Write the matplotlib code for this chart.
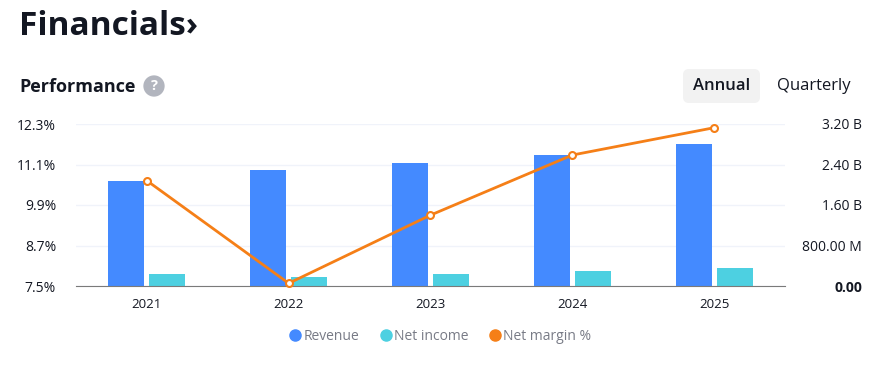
import matplotlib.pyplot as plt
import numpy as np
from matplotlib.lines import Line2D
from matplotlib.patches import FancyBboxPatch
from matplotlib.transforms import IdentityTransform

plt.rcParams['font.family'] = ['Open Sans', 'DejaVu Sans']

# data
years = ['2021', '2022', '2023', '2024', '2025']
revenue = [2.07, 2.30, 2.43, 2.58, 2.81]        # billions
net_income = [0.24, 0.18, 0.24, 0.30, 0.355]     # billions
net_margin = [10.62, 7.58, 9.60, 11.38, 12.19]   # %
pct_ticks = [7.5, 8.7, 9.9, 11.1, 12.3]
bn_ticks = [0, 0.8, 1.6, 2.4, 3.2]
bn_labels = ['0.00', '800.00 M', '1.60 B', '2.40 B', '3.20 B']

W, H = 882, 365
fig = plt.figure(figsize=(W / 100, H / 100), dpi=100)

# header texts
fig.text(19 / W, 1 - 35 / H, 'Financials\u203a', fontsize=24, fontweight='bold',
         color='#131722', va='baseline', ha='left')
fig.text(19 / W, 1 - 92 / H, 'Performance', fontsize=13, fontweight='bold',
         color='#131722', va='baseline', ha='left')
fig.text(154 / W, 1 - 86 / H, '?', fontsize=10.5, fontweight='bold', color='white',
         ha='center', va='center',
         bbox=dict(boxstyle='circle,pad=0.25', fc='#b2b5be', ec='none'))

# Annual / Quarterly toggle
btn = FancyBboxPatch((683, H - 103), 77, 34, boxstyle='round,pad=0,rounding_size=6',
                     fc='#f2f2f2', ec='none', transform=IdentityTransform())
fig.add_artist(btn)
fig.text(721.5 / W, 1 - 86 / H, 'Annual', fontsize=12, color='#131722',
         ha='center', va='center', fontweight='semibold')
fig.text(814 / W, 1 - 86 / H, 'Quarterly', fontsize=12, color='#131722',
         ha='center', va='center')

# axes: bars in billions (right scale), line in % (left scale)
ax = fig.add_axes([76 / W, 1 - 286 / H, (785 - 76) / W, (286 - 124) / H])
ax2 = ax.twinx()
x = np.arange(len(years))
bw = 0.254
off = 0.144
ax.bar(x - off, revenue, bw, color='#448aff', zorder=2)
ax.bar(x + off, net_income, bw, color='#4dd0e1', zorder=2)
ax.set_xlim(-0.5, len(years) - 0.5)
ax.set_ylim(0, 3.2)
ax.set_yticks(bn_ticks)
ax.set_yticklabels(bn_labels)
ax.yaxis.tick_right()
ax.tick_params(axis='y', length=0, pad=55.4, labelsize=10, labelcolor='#131722')
for i, t in enumerate(ax.yaxis.get_major_ticks()):
    t.label2.set_horizontalalignment('right')
    if i == 0:
        t.label2.set_fontweight('bold')
ax.set_xticks(x)
ax.set_xticklabels(years)
ax.tick_params(axis='x', length=0, pad=9, labelsize=9.5, labelcolor='#131722')
ax.grid(axis='y', color='#f0f3fa', linewidth=1, zorder=0)
for s in ['top', 'left', 'right']:
    ax.spines[s].set_visible(False)
ax.spines['bottom'].set_color('#7a7a7a')
ax.spines['bottom'].set_zorder(3)

ax2.plot(x, net_margin, color='#f57f17', linewidth=2, marker='o', markersize=5,
         markerfacecolor='white', markeredgecolor='#f57f17', markeredgewidth=1.5,
         clip_on=False, zorder=4)
ax2.set_ylim(pct_ticks[0], pct_ticks[-1])
ax2.set_yticks(pct_ticks)
ax2.set_yticklabels([f'{t:.1f}%' for t in pct_ticks])
ax2.yaxis.tick_left()
ax2.tick_params(axis='y', length=0, pad=14.4, labelsize=10, labelcolor='#131722')
for s in ax2.spines.values():
    s.set_visible(False)

# legend
handles = [Line2D([], [], linestyle='none', marker='o', markersize=8, color=c)
           for c in ['#448aff', '#4dd0e1', '#f57f17']]
fig.legend(handles, ['Revenue', 'Net income', 'Net margin %'], loc='center',
           bbox_to_anchor=(440 / W, 1 - 336 / H), ncol=3, frameon=False,
           fontsize=10, labelcolor='#787b86', handletextpad=0.1,
           columnspacing=1.4, handlelength=1)

fig.savefig('out.png', dpi=100)
